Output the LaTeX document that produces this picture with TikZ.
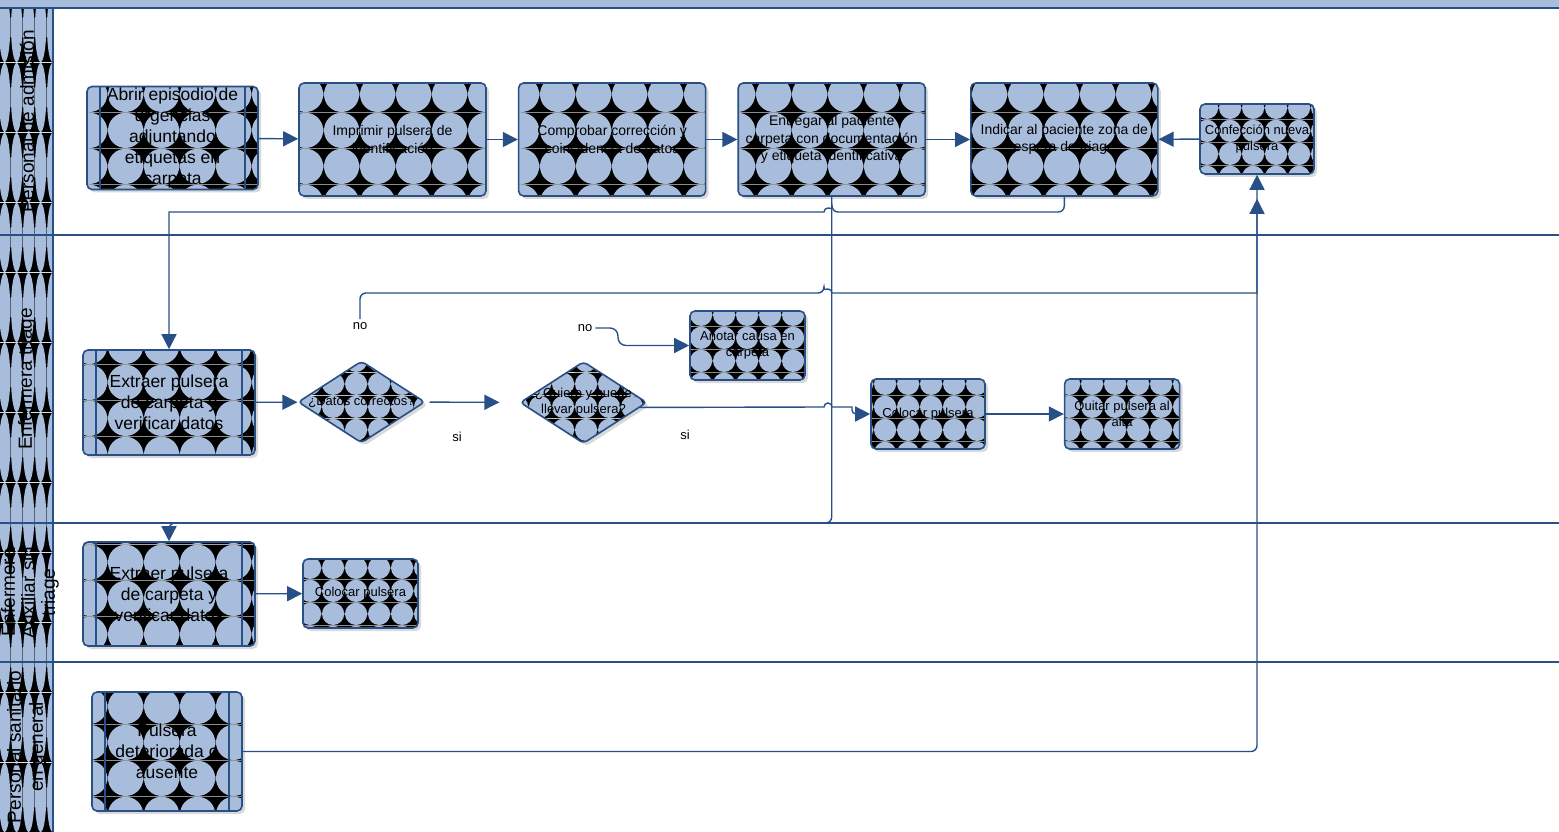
\documentclass[tikz,border=0pt]{standalone}
\usepackage{fontspec}
\setmainfont{Liberation Sans}
\usetikzlibrary{positioning,arrows.meta,shapes.geometric,shadows,patterns.meta}

\definecolor{lineblue}{RGB}{40,80,135}
\definecolor{bubble}{RGB}{168,189,220}

\tikzdeclarepattern{
	name=bigbubbles,
	type=colored,
	bottom left={(0pt,0pt)},
	top right={(36pt,36pt)},
	tile size={(36pt,36pt)},
	code={
			\fill[black] (0pt,0pt) rectangle (36pt,36pt);
			\fill[bubble] (18pt,18pt) circle[radius=18pt];
		}
}
\tikzdeclarepattern{
	name=smallbubbles,
	type=colored,
	bottom left={(0pt,0pt)},
	top right={(23pt,23pt)},
	tile size={(23pt,23pt)},
	code={
			\fill[black] (0pt,0pt) rectangle (23pt,23pt);
			\fill[bubble] (11.5pt,11.5pt) circle[radius=11.5pt];
		}
}
\tikzdeclarepattern{
	name=lanebubbles,
	type=colored,
	bottom left={(0pt,0pt)},
	top right={(12pt,70pt)},
	tile size={(12pt,70pt)},
	code={
			\fill[black] (0pt,0pt) rectangle (12pt,70pt);
			\fill[bubble] (6pt,35pt) ellipse[x radius=6pt,y radius=35pt];
		}
}

\begin{document}
\begin{tikzpicture}[
		x=1pt, y=-1pt,
		box/.style={
				rectangle,
				rounded corners=5pt,
				draw=lineblue,
				line width=1.6pt,
				pattern=bigbubbles,
				align=center,
				inner sep=0pt,
				font=\fontsize{14}{17.5}\selectfont,
				drop shadow={shadow xshift=3pt, shadow yshift=-3pt, opacity=.3}
			},
		smallbox/.style={box, pattern=smallbubbles, font=\fontsize{13}{16}\selectfont},
		subproc/.style={box, font=\fontsize{17.5}{21}\selectfont,
				path picture={
						\draw[lineblue, line width=1.4pt]
						([xshift=13pt]path picture bounding box.north west) -- ([xshift=13pt]path picture bounding box.south west)
						([xshift=-13pt]path picture bounding box.north east) -- ([xshift=-13pt]path picture bounding box.south east);
					}},
		decision/.style={
				diamond,
				rounded corners=4pt,
				draw=lineblue,
				line width=1.6pt,
				pattern=smallbubbles,
				inner sep=0pt,
				minimum width=127pt,
				minimum height=82pt,
				drop shadow={shadow xshift=3pt, shadow yshift=-3pt, opacity=.3}
			},
		lbl/.style={font=\fontsize{13}{16}\selectfont, inner sep=3pt, align=center},
		lanetext/.style={rotate=90, align=center, inner sep=0pt, font=\fontsize{19}{22}\selectfont},
		lane/.style={draw=lineblue, line width=2pt},
		flow/.style={->, draw=lineblue, line width=1.4pt},
		>={Triangle[length=15pt,width=15pt]}
	]

	\useasboundingbox (0,0) rectangle (1559,832);

	% pool and lanes
	\fill[bubble] (0,0) rectangle (1559,8);
	\fill[pattern=lanebubbles] (0,8) rectangle (53,832);
	\draw[lane] (0,8) -- (1559,8);
	\draw[lane] (0,235) -- (1559,235);
	\draw[lane] (0,523) -- (1559,523);
	\draw[lane] (0,662) -- (1559,662);
	\draw[lane] (53,8) -- (53,832);

	\node[lanetext] (laneadm) at (27,121.5) {Personal de admisión};
	\node[lanetext] (lanetri) at (27,379) {Enfermera triage};
	\node[lanetext, font=\fontsize{19}{20}\selectfont] (laneaux) at (30,592.5) {Enfermera\\Auxiliar sin\\triage};
	\node[lanetext] (lanegen) at (27,747) {Personal sanitario\\en general};

	% admision
	\node[subproc, minimum width=171pt, minimum height=103pt] (abrir) at (172.5,138)
	{Abrir episodio de\\urgencias\\adjuntando\\etiquetas en\\carpeta};

	\node[box, minimum width=187pt, minimum height=113pt] (imprimir) at (392.5,139.5)
	{Imprimir pulsera de\\identificación};

	\node[box, minimum width=187pt, minimum height=113pt, right=31pt of imprimir] (comprobar)
	{Comprobar corrección y\\coincidencia de datos};

	\node[box, minimum width=187pt, minimum height=113pt, right=31pt of comprobar] (entregar)
	{Entregar al paciente\\carpeta con documentación\\y etiqueta identificativa};

	\node[box, minimum width=187pt, minimum height=113pt, right=44pt of entregar] (indicar)
	{Indicar al paciente zona de\\espera de triage};

	\node[smallbox, minimum width=114pt, minimum height=70pt] (confeccion) at (1257,139)
	{Confección nueva\\pulsera};

	% triage
	\node[subproc, minimum width=172pt, minimum height=105pt] (extA) at (169,402.5)
	{Extraer pulsera\\de carpeta y\\verificar datos};

	\node[decision, label={[lbl]center:¿Datos correctos?}] (datos) at (361.5,402) {};

	\node[decision, label={[lbl]center:{¿Quiere y puede\\llevar pulsera?}}] (quiere) at (583.5,402.5) {};

	\node[smallbox, minimum width=115pt, minimum height=69pt] (anotar) at (747.5,345.5)
	{Anotar causa en\\carpeta};

	\node[smallbox, minimum width=114pt, minimum height=70pt] (colocarA) at (928,414)
	{Colocar pulsera};

	\node[smallbox, minimum width=115pt, minimum height=70pt, right=78pt of colocarA] (quitar)
	{Quitar pulsera al\\alta};

	\node[lbl] (noA) at (360,326) {no};
	\node[lbl] (siA) at (457,437) {si};
	\node[lbl] (noB) at (585,328) {no};
	\node[lbl] (siB) at (685,435) {si};

	% auxiliar
	\node[subproc, minimum width=172pt, minimum height=104pt] (extB) at (169,594)
	{Extraer pulsera\\de carpeta y\\verificar datos};

	\node[smallbox, minimum width=115pt, minimum height=69pt] (colocarB) at (360.5,593.5)
	{Colocar pulsera};

	% general
	\node[subproc, minimum width=150pt, minimum height=119pt] (pulsera) at (167,751.5)
	{Pulsera\\deteriorada o\\ausente};

	\draw[flow] (abrir) -- (imprimir);
	\draw[flow] (imprimir) -- (comprobar);
	\draw[flow] (comprobar) -- (entregar);
	\draw[flow] (entregar) -- (indicar);
	\draw[flow] (confeccion) -- (indicar);

	\draw[flow] (indicar.south) [rounded corners=6pt] |- (832,212)
	[sharp corners] arc[start angle=0, end angle=-180, radius=4]
	-- (extA.north |- 0,212) [rounded corners=6pt] -- (extA.north);
	\draw[flow] (entregar.south) [rounded corners=6pt] |- (extB.north |- 0,523) -- (extB.north);

	\draw[flow] (extA) -- (datos);
	\draw[flow, shorten <=4pt, shorten >=20pt] (datos) -- (quiere);
	\draw[flow] (noA.north) [rounded corners=6pt] |- (824,293)
	[sharp corners] arc[start angle=180, end angle=360, radius=4]
	-- (confeccion.south |- 0,293) [rounded corners=6pt] -- (confeccion.south);
	\draw[flow] (noB.east) [rounded corners=8pt] -- (618,328) |- (anotar.west);
	\draw[flow] (quiere.-5) -- (824,407)
	[sharp corners] arc[start angle=180, end angle=360, radius=4]
	-- (852,407) [rounded corners=4pt] |- (colocarA.west);
	\draw[flow] (colocarA) -- (quitar);

	\draw[flow] (extB) -- (colocarB);

	\draw[flow, shorten >=24pt] (pulsera.east) [rounded corners=6pt] -| (confeccion.south);

\end{tikzpicture}
\end{document}
